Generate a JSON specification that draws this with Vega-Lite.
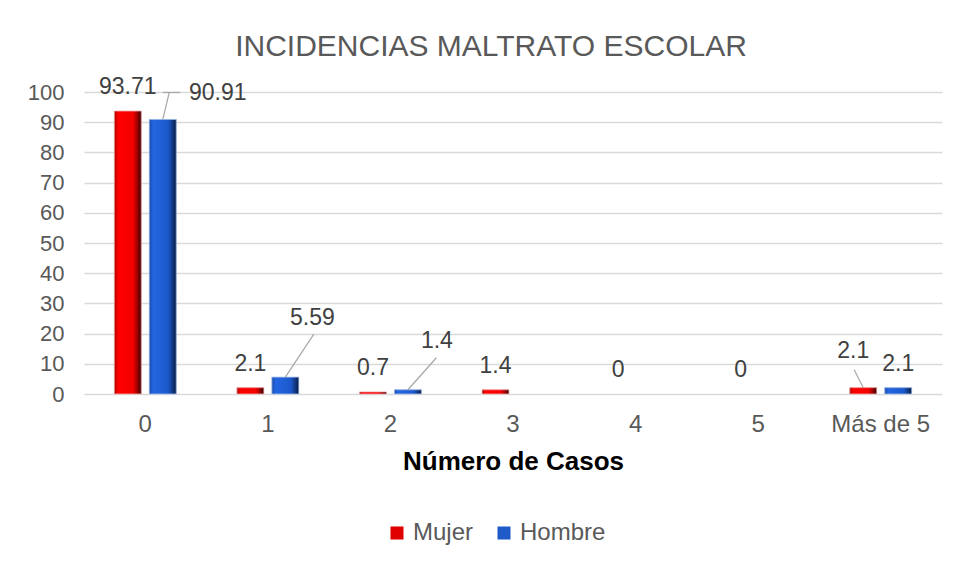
{
  "$schema": "https://vega.github.io/schema/vega-lite/v6.json",
  "width": 858,
  "height": 302,
  "autosize": "none",
  "padding": {"left": 84, "top": 92, "right": 16, "bottom": 172},
  "background": "white",
  "title": {
    "text": "INCIDENCIAS MALTRATO ESCOLAR",
    "fontSize": 30,
    "font": "Liberation Sans",
    "fontWeight": "normal",
    "color": "#595959",
    "anchor": "middle",
    "dx": -22,
    "offset": 14
  },
  "config": {
    "view": {"stroke": null},
    "font": "Liberation Sans",
    "legend": {"orient": "none", "legendX": 301, "legendY": 429}
  },
  "data": {
    "values": [
      {"casos": "0", "sexo": "Mujer", "valor": 93.71},
      {"casos": "0", "sexo": "Hombre", "valor": 90.91},
      {"casos": "1", "sexo": "Mujer", "valor": 2.1},
      {"casos": "1", "sexo": "Hombre", "valor": 5.59},
      {"casos": "2", "sexo": "Mujer", "valor": 0.7},
      {"casos": "2", "sexo": "Hombre", "valor": 1.4},
      {"casos": "3", "sexo": "Mujer", "valor": 1.4},
      {"casos": "4", "sexo": "Mujer", "valor": 0},
      {"casos": "5", "sexo": "Mujer", "valor": 0},
      {"casos": "Más de 5", "sexo": "Mujer", "valor": 2.1},
      {"casos": "Más de 5", "sexo": "Hombre", "valor": 2.1}
    ]
  },
  "encoding": {
    "x": {
      "field": "casos",
      "type": "nominal",
      "sort": ["0", "1", "2", "3", "4", "5", "Más de 5"],
      "scale": {"paddingInner": 0.495, "paddingOuter": 0.2475},
      "axis": {
        "title": "Número de Casos",
        "labelAngle": 0,
        "ticks": false,
        "domain": false,
        "labelFontSize": 24,
        "labelColor": "#595959",
        "labelPadding": 18,
        "titleFontSize": 26,
        "titleFontWeight": "bold",
        "titleColor": "#000000",
        "titlePadding": 12
      }
    },
    "xOffset": {
      "field": "sexo",
      "type": "nominal",
      "sort": ["Mujer", "Hombre"],
      "scale": {"domain": ["Mujer", "Hombre"], "paddingInner": 0.23, "paddingOuter": 0}
    },
    "y": {
      "field": "valor",
      "type": "quantitative",
      "scale": {"domain": [0, 100], "nice": false},
      "axis": {
        "title": null,
        "values": [0, 10, 20, 30, 40, 50, 60, 70, 80, 90, 100],
        "ticks": false,
        "domain": false,
        "labelFontSize": 22,
        "labelColor": "#595959",
        "labelPadding": 20,
        "gridColor": "#d9d9d9",
        "gridWidth": 1.5
      }
    }
  },
  "layer": [
    {
      "mark": {"type": "bar"},
      "encoding": {
        "color": {
          "field": "sexo",
          "type": "nominal",
          "sort": ["Mujer", "Hombre"],
          "scale": {"domain": ["Mujer", "Hombre"], "range": ["#e00000", "#1f5bc8"]},
          "legend": {
            "title": null,
            "direction": "horizontal",
            "symbolType": "square",
            "symbolSize": 170,
            "symbolStrokeWidth": 0,
            "labelFontSize": 24,
            "labelColor": "#595959",
            "columnPadding": 18,
            "labelOffset": 4
          }
        }
      }
    },
    {
      "transform": [{"filter": "datum.sexo == 'Mujer' && datum.valor > 0"}],
      "mark": {
        "type": "bar",
        "stroke": "#f0b0b0",
        "strokeWidth": 0.8,
        "fill": {
          "gradient": "linear", "x1": 0, "x2": 1, "y1": 0, "y2": 0,
          "stops": [
            {"offset": 0, "color": "#a80000"},
            {"offset": 0.14, "color": "#ff0000"},
            {"offset": 0.7, "color": "#f20000"},
            {"offset": 0.86, "color": "#9a0000"},
            {"offset": 1, "color": "#300000"}
          ]
        }
      }
    },
    {
      "transform": [{"filter": "datum.sexo == 'Hombre' && datum.valor > 0"}],
      "mark": {
        "type": "bar",
        "stroke": "#a8c0ec",
        "strokeWidth": 0.8,
        "fill": {
          "gradient": "linear", "x1": 0, "x2": 1, "y1": 0, "y2": 0,
          "stops": [
            {"offset": 0, "color": "#1a4aa8"},
            {"offset": 0.14, "color": "#2366e0"},
            {"offset": 0.7, "color": "#1c58cc"},
            {"offset": 0.86, "color": "#123a85"},
            {"offset": 1, "color": "#081a40"}
          ]
        }
      }
    },
    {
      "transform": [{"filter": "!((datum.casos == '0' && datum.sexo == 'Hombre') || (datum.casos == '1' && datum.sexo == 'Hombre') || (datum.casos == '2' && datum.sexo == 'Hombre') || (datum.casos == 'Más de 5' && datum.sexo == 'Mujer'))"}],
      "mark": {"type": "text", "fontSize": 23, "color": "#404040", "dy": -24},
      "encoding": {"text": {"field": "valor", "type": "quantitative", "format": "~g"}}
    },
    {
      "transform": [{"filter": "datum.casos == '0' && datum.sexo == 'Hombre'"}],
      "mark": {"type": "text", "fontSize": 23, "color": "#404040", "dy": -26, "dx": 55},
      "encoding": {"text": {"field": "valor", "type": "quantitative", "format": "~g"}}
    },
    {
      "transform": [{"filter": "datum.casos == '1' && datum.sexo == 'Hombre'"}],
      "mark": {"type": "text", "fontSize": 23, "color": "#404040", "dy": -59, "dx": 27},
      "encoding": {"text": {"field": "valor", "type": "quantitative", "format": "~g"}}
    },
    {
      "transform": [{"filter": "datum.casos == '2' && datum.sexo == 'Hombre'"}],
      "mark": {"type": "text", "fontSize": 23, "color": "#404040", "dy": -49, "dx": 29},
      "encoding": {"text": {"field": "valor", "type": "quantitative", "format": "~g"}}
    },
    {
      "transform": [{"filter": "datum.casos == 'Más de 5' && datum.sexo == 'Mujer'"}],
      "mark": {"type": "text", "fontSize": 23, "color": "#404040", "dy": -37, "dx": -10},
      "encoding": {"text": {"field": "valor", "type": "quantitative", "format": "~g"}}
    },
    {
      "transform": [{"filter": "datum.casos == '1' && datum.sexo == 'Hombre'"}],
      "mark": {"type": "rule", "color": "#a6a6a6", "strokeWidth": 1.2, "xOffset": 3, "x2Offset": 46, "y2Offset": -43},
      "encoding": {"x2": {"field": "casos"}, "y2": {"field": "valor"}}
    },
    {
      "transform": [{"filter": "datum.casos == '2' && datum.sexo == 'Hombre'"}],
      "mark": {"type": "rule", "color": "#a6a6a6", "strokeWidth": 1.2, "xOffset": 1, "x2Offset": 46, "y2Offset": -32},
      "encoding": {"x2": {"field": "casos"}, "y2": {"field": "valor"}}
    },
    {
      "transform": [{"filter": "datum.casos == '0' && datum.sexo == 'Hombre'"}],
      "mark": {"type": "rule", "color": "#a6a6a6", "strokeWidth": 1.2, "xOffset": 2.5, "x2Offset": 24, "y2Offset": -27},
      "encoding": {"x2": {"field": "casos"}, "y2": {"field": "valor"}}
    },
    {
      "transform": [{"filter": "datum.casos == '0' && datum.sexo == 'Hombre'"}],
      "mark": {"type": "rule", "color": "#a6a6a6", "strokeWidth": 1.2, "xOffset": 6.5, "yOffset": -27, "x2Offset": 35, "y2Offset": -27},
      "encoding": {"x2": {"field": "casos"}, "y2": {"field": "valor"}}
    },
    {
      "transform": [{"filter": "datum.casos == 'Más de 5' && datum.sexo == 'Mujer'"}],
      "mark": {"type": "rule", "color": "#a6a6a6", "strokeWidth": 1.2, "xOffset": -1.5, "x2Offset": -26.5, "y2Offset": -18},
      "encoding": {"x2": {"field": "casos"}, "y2": {"field": "valor"}}
    }
  ]
}
